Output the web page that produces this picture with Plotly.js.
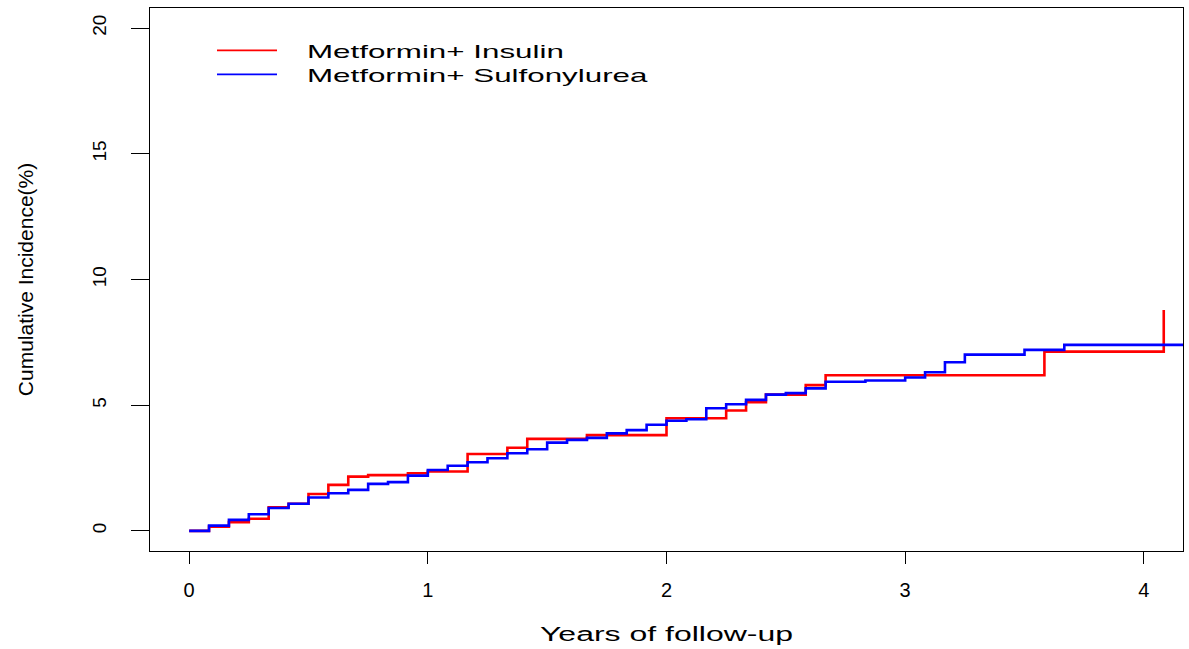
<!DOCTYPE html>
<html>
<head>
<meta charset="utf-8">
<script src="https://cdn.plot.ly/plotly-3.0.1.min.js"></script>
<style>
  html, body { margin: 0; padding: 0; background: #ffffff; }
  #chart { width: 1189px; height: 649px; }
</style>
</head>
<body>
<div id="chart"></div>
<script>
// Follow-up time (months) at which each step occurs, and cumulative incidence (%) after the step
const insulinMonths = [0, 1, 2, 3, 4, 5, 6, 7, 8, 9, 11, 12, 14, 16, 17, 20, 24, 27, 28, 29, 31, 32, 43, 49, 49];
const insulinValues = [0, 0.17, 0.35, 0.48, 0.94, 1.08, 1.47, 1.83, 2.16, 2.22, 2.29, 2.36, 3.06, 3.31, 3.66, 3.81, 4.48, 4.79, 5.12, 5.42, 5.8, 6.19, 7.13, 7.13, 8.79];

const sulfonylMonths = [0, 1, 2, 3, 4, 5, 6, 7, 8, 9, 10, 11, 12, 13, 14, 15, 16, 17, 18, 19, 20, 21, 22, 23, 24, 25, 26, 27, 28, 29, 30, 31, 32, 34, 36, 37, 38, 39, 42, 44, 51];
const sulfonylValues = [0, 0.21, 0.44, 0.66, 0.91, 1.08, 1.33, 1.5, 1.63, 1.87, 1.94, 2.2, 2.42, 2.59, 2.73, 2.89, 3.09, 3.25, 3.51, 3.62, 3.7, 3.88, 4.01, 4.22, 4.38, 4.44, 4.88, 5.04, 5.21, 5.42, 5.48, 5.67, 5.93, 5.98, 6.1, 6.31, 6.71, 7.01, 7.2, 7.4, 7.4];

const seriesNames = ["Metformin+ Insulin", "Metformin+ Sulfonylurea"];
const seriesColors = ["#ff0000", "#0000ff"];

const xTickVals = [0, 1, 2, 3, 4];
const yTickVals = [0, 5, 10, 15, 20];

const toYears = m => m.map(v => v / 12);

const traces = [
  {
    x: toYears(insulinMonths), y: insulinValues, name: seriesNames[0],
    type: "scatter", mode: "lines",
    line: { color: seriesColors[0], width: 2.6, shape: "hv" }
  },
  {
    x: toYears(sulfonylMonths), y: sulfonylValues, name: seriesNames[1],
    type: "scatter", mode: "lines",
    line: { color: seriesColors[1], width: 2.6, shape: "hv" }
  }
];

const font = "Liberation Sans, Arial, Helvetica, sans-serif";

const layout = {
  width: 1189, height: 649,
  margin: { l: 150, r: 6, t: 8, b: 98, pad: 0 },
  paper_bgcolor: "#ffffff", plot_bgcolor: "#ffffff",
  font: { family: font, color: "#000000" },
  showlegend: true,
  legend: {
    x: (212 - 150) / 1033, y: 1 - (31.5 - 8) / 543,
    xanchor: "left", yanchor: "top",
    bgcolor: "rgba(0,0,0,0)", borderwidth: 0,
    itemwidth: 60, traceorder: "normal",
    font: { family: font, size: 19, color: "#000000" }
  },
  xaxis: {
    range: [-0.164, 4.164],
    tickvals: xTickVals, ticktext: xTickVals.map(String),
    ticks: "outside", ticklen: 12, tickwidth: 1, tickcolor: "#000000",
    ticklabelstandoff: 9,
    showline: true, linecolor: "#000000", linewidth: 1, mirror: true,
    showgrid: false, zeroline: false,
    tickfont: { family: font, size: 20, color: "#000000" },
    title: { text: "Years of follow-up", font: { family: font, size: 20, color: "#000000" }, standoff: 27 }
  },
  yaxis: {
    range: [-0.8, 20.8],
    tickvals: yTickVals, ticktext: yTickVals.map(String),
    tickangle: -90,
    ticks: "outside", ticklen: 18, tickwidth: 1, tickcolor: "#000000",
    ticklabelstandoff: 17,
    showline: true, linecolor: "#000000", linewidth: 1, mirror: true,
    showgrid: false, zeroline: false,
    tickfont: { family: font, size: 19, color: "#000000" },
    title: { text: "Cumulative Incidence(%)", font: { family: font, size: 21, color: "#000000" }, standoff: 50 }
  }
};

function widenText(el, scale, dx) {
  const x = parseFloat(el.getAttribute("x") || "0");
  const stored = el.getAttribute("data-orig-transform");
  const base = stored !== null ? stored : (el.getAttribute("transform") || "");
  if (stored === null) el.setAttribute("data-orig-transform", base);
  const next = base + " translate(" + (dx || 0) + ",0) translate(" + x + ",0) scale(" + scale + ",1) translate(" + (-x) + ",0)";
  if (el.getAttribute("transform") !== next) el.setAttribute("transform", next);
}

function parseTranslate(str) {
  const m = /translate\(\s*([-\d.e]+)[ ,]+([-\d.e]+)\s*\)/.exec(str || "");
  return m ? [parseFloat(m[1]), parseFloat(m[2])] : [0, 0];
}

function restyleText(root) {
  root.querySelectorAll("g[clip-path]").forEach(c => {
    if (c.querySelector(".legendtext")) c.removeAttribute("clip-path");
  });
  const items = root.querySelectorAll(".legend .traces");
  if (items.length > 1) {
    const first = parseTranslate(items[0].getAttribute("transform"));
    items.forEach((it, i) => {
      if (i === 0) return;
      const next = "translate(" + first[0] + "," + (first[1] + 24 * i) + ")";
      if (it.getAttribute("transform") !== next) it.setAttribute("transform", next);
    });
  }
  root.querySelectorAll(".legendtext").forEach(t => widenText(t, 1.65, 25));
  root.querySelectorAll(".legendlines path").forEach(p => {
    if (p.style.strokeWidth !== "1.8px") p.style.strokeWidth = "1.8px";
  });
  const xt = root.querySelector(".g-xtitle text");
  if (xt) widenText(xt, 1.6, 0);
}

const chartDiv = document.getElementById("chart");
Plotly.newPlot(chartDiv, traces, layout, { displayModeBar: false, responsive: false }).then(gd => {
  restyleText(gd);
  gd.on("plotly_afterplot", () => restyleText(gd));
});
</script>
</body>
</html>
